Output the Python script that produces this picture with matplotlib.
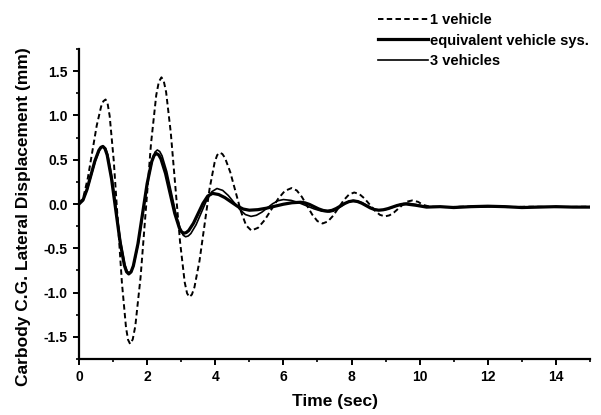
import matplotlib
matplotlib.use("Agg")
import matplotlib.pyplot as plt
from matplotlib.ticker import MultipleLocator

plt.rcParams['font.family'] = ['Liberation Sans', 'DejaVu Sans']
plt.rcParams['font.weight'] = 'bold'

# ---- data ----
t_one = [0, 0.13, 0.26, 0.39, 0.52, 0.65, 0.715, 0.78,
         0.84, 0.90, 1.02, 1.14, 1.26, 1.38, 1.44, 1.50,
         1.577, 1.653, 1.807, 1.96, 2.113, 2.267, 2.343, 2.42,
         2.488, 2.557, 2.693, 2.83, 2.967, 3.103, 3.172, 3.24,
         3.314, 3.388, 3.537, 3.685, 3.833, 3.982, 4.056, 4.13,
         4.208, 4.285, 4.44, 4.595, 4.75, 4.905, 5.06,
         5.257, 5.453, 5.65, 5.847, 6.043, 6.24,
         6.392, 6.543, 6.695, 6.847, 6.998, 7.15,
         7.305, 7.46, 7.615, 7.77, 7.925, 8.08,
         8.23, 8.38, 8.53, 8.68, 8.83, 8.98,
         9.113, 9.247, 9.38, 9.513, 9.647, 9.78,
         9.95, 10.1, 10.3, 10.8, 11.3, 12.0, 12.6, 13.2, 14.0, 15.0]
v_one = [0, 0.079, 0.295, 0.59, 0.885, 1.101, 1.16, 1.18,
         1.133, 0.995, 0.49, -0.20, -0.89, -1.395, -1.533, -1.58,
         -1.529, -1.378, -0.828, -0.075, 0.678, 1.228, 1.379, 1.43,
         1.388, 1.264, 0.81, 0.19, -0.43, -0.884, -1.008, -1.05,
         -1.022, -0.941, -0.6425, -0.235, 0.1725, 0.471, 0.552, 0.58,
         0.565, 0.521, 0.36, 0.14, -0.08, -0.241, -0.30,
         -0.268, -0.18, -0.06, 0.06, 0.148, 0.18,
         0.153, 0.08, -0.02, -0.12, -0.193, -0.22,
         -0.197, -0.1325, -0.045, 0.0425, 0.107, 0.13,
         0.112, 0.0625, -0.005, -0.0725, -0.122, -0.14,
         -0.128, -0.095, -0.05, -0.005, 0.028, 0.04,
         0.025, -0.01, -0.03, -0.035, -0.03, -0.025, -0.035, -0.03, -0.035, -0.03]

t_equiv = [0, 0.117, 0.233, 0.35, 0.467, 0.583, 0.642, 0.70,
           0.763, 0.827, 0.953, 1.08, 1.207, 1.333, 1.397, 1.46,
           1.528, 1.595, 1.73, 1.865, 2.0, 2.135, 2.2025, 2.27,
           2.3375, 2.405, 2.54, 2.675, 2.81, 2.945, 3.0125, 3.08,
           3.15, 3.22, 3.36, 3.50, 3.64, 3.78, 3.92,
           4.10, 4.28, 4.46, 4.64, 4.82, 5.0,
           5.25, 5.5, 5.75, 6.0, 6.25, 6.5,
           6.633, 6.767, 6.9, 7.033, 7.167, 7.3,
           7.425, 7.55, 7.675, 7.8, 7.925, 8.05,
           8.175, 8.3, 8.425, 8.55, 8.675, 8.8,
           8.933, 9.067, 9.2, 9.333, 9.467, 9.6,
           9.9, 10.2, 10.6, 11.0, 11.5, 12.0, 12.5, 13.0, 13.5, 14.0, 14.5, 15.0]
v_equiv = [0, 0.044, 0.1625, 0.325, 0.4875, 0.606, 0.639, 0.65,
           0.6255, 0.5535, 0.29, -0.07, -0.43, -0.6935, -0.7655, -0.79,
           -0.767, -0.699, -0.45, -0.11, 0.23, 0.479, 0.547, 0.57,
           0.555, 0.51, 0.345, 0.12, -0.105, -0.27, -0.315, -0.33,
           -0.322, -0.30, -0.2175, -0.105, 0.0075, 0.09, 0.12,
           0.107, 0.0725, 0.025, -0.0225, -0.057, -0.07,
           -0.064, -0.0475, -0.025, -0.0025, 0.014, 0.02,
           0.013, -0.005, -0.03, -0.055, -0.073, -0.08,
           -0.072, -0.051, -0.0225, 0.006, 0.027, 0.035,
           0.028, 0.009, -0.0175, -0.044, -0.063, -0.07,
           -0.065, -0.0525, -0.035, -0.0175, -0.005, 0.0,
           -0.015, -0.035, -0.03, -0.04, -0.03, -0.025, -0.03, -0.04, -0.035, -0.03, -0.035, -0.035]

t_three = [0, 0.12, 0.24, 0.36, 0.48, 0.60, 0.66, 0.72,
           0.7825, 0.845, 0.97, 1.095, 1.22, 1.345, 1.4075, 1.47,
           1.539, 1.608, 1.747, 1.885, 2.023, 2.162, 2.231, 2.30,
           2.369, 2.438, 2.577, 2.715, 2.853, 2.992, 3.061, 3.13,
           3.207, 3.283, 3.437, 3.59, 3.743, 3.897, 4.05,
           4.217, 4.383, 4.55, 4.717, 4.883, 5.05,
           5.208, 5.367, 5.525, 5.683, 5.842, 6.0,
           6.225, 6.45, 6.675, 6.9, 7.125, 7.35,
           7.467, 7.583, 7.70, 7.817, 7.933, 8.05,
           8.183, 8.317, 8.45, 8.583, 8.717, 8.85,
           8.983, 9.117, 9.25, 9.383, 9.517, 9.65,
           9.95, 10.25, 10.7, 11.2, 11.8, 12.3, 12.9, 13.5, 14.2, 15.0]
v_three = [0, 0.044, 0.1625, 0.325, 0.4875, 0.606, 0.639, 0.65,
           0.626, 0.554, 0.2925, -0.065, -0.4225, -0.684, -0.756, -0.78,
           -0.756, -0.687, -0.4325, -0.085, 0.2625, 0.517, 0.586, 0.61,
           0.593, 0.544, 0.365, 0.12, -0.125, -0.304, -0.353, -0.37,
           -0.361, -0.3335, -0.234, -0.0975, 0.039, 0.1385, 0.175,
           0.154, 0.096, 0.0175, -0.061, -0.119, -0.14,
           -0.127, -0.0925, -0.045, 0.0025, 0.037, 0.05,
           0.041, 0.015, -0.02, -0.055, -0.081, -0.09,
           -0.081, -0.0575, -0.025, 0.0075, 0.031, 0.04,
           0.033, 0.0125, -0.015, -0.0425, -0.063, -0.07,
           -0.065, -0.05, -0.03, -0.01, 0.005, 0.01,
           -0.01, -0.035, -0.035, -0.03, -0.035, -0.025, -0.035, -0.03, -0.035, -0.035]

labels = ["1 vehicle", "equivalent vehicle sys.", "3 vehicles"]
x_ticks = [0, 2, 4, 6, 8, 10, 12, 14]
y_ticks = [-1.5, -1.0, -0.5, 0.0, 0.5, 1.0, 1.5]

# ---- figure ----
fig = plt.figure(figsize=(6.01, 4.15), dpi=100)
ax = fig.add_axes([79/601, 1 - 359/415, (590 - 79)/601, (359 - 49)/415])

l1, = ax.plot(t_one, v_one, color='black', lw=1.4, linestyle=(0, (2.8, 1.7)))
l2, = ax.plot(t_equiv, v_equiv, color='black', lw=2.3)
l3, = ax.plot(t_three, v_three, color='black', lw=1.2)

ax.set_xlim(0, 15)
ax.set_ylim(-1.75, 1.75)
ax.set_xticks(x_ticks)
ax.set_yticks(y_ticks)
ax.set_xticklabels([str(v) for v in x_ticks])
ax.set_yticklabels([f"{v:.1f}" for v in y_ticks])
ax.xaxis.set_minor_locator(MultipleLocator(1))
ax.yaxis.set_minor_locator(MultipleLocator(0.25))

for s in ['top', 'right']:
    ax.spines[s].set_visible(False)
for s in ['left', 'bottom']:
    ax.spines[s].set_linewidth(1.6)

ax.tick_params(which='major', direction='out', length=4, width=1.4, labelsize=10, pad=4)
ax.tick_params(which='minor', direction='out', length=2.5, width=1.2)
for lab in ax.get_xticklabels() + ax.get_yticklabels():
    lab.set_fontweight('bold')

ax.set_xlabel("Time (sec)", fontsize=12.5, fontweight='bold', labelpad=7)
ax.set_ylabel("Carbody C.G. Lateral Displacement (mm)", fontsize=12.5, fontweight='bold', labelpad=9)
ax.yaxis.label.set_y(0.46)

fig.legend([l1, l2, l3], labels, loc='upper left', bbox_to_anchor=(378/601, 1 - 13/415),
           frameon=False, handlelength=3.4, handletextpad=0.2,
           labelspacing=0.45, borderpad=0, borderaxespad=0,
           prop={'weight': 'bold', 'size': 10.5})

fig.savefig("out.png", dpi=100)
